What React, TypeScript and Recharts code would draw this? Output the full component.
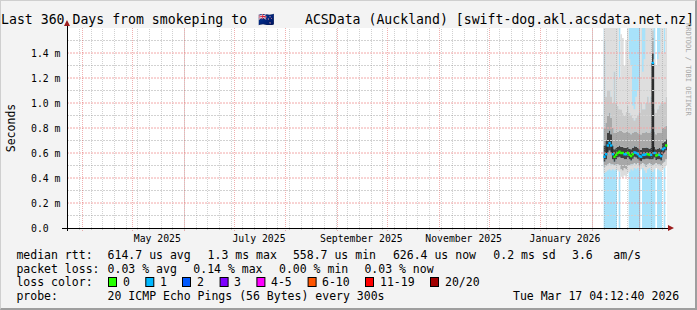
import React from "react";
import {
  ComposedChart,
  Area,
  Line,
  Scatter,
  XAxis,
  YAxis,
  ReferenceLine,
  ReferenceDot,
} from "recharts";

const FONT = "'DejaVu Sans Mono', monospace";

// ---- data (values in milliseconds; x in days since start of the 360-day window)
const binDays = [
  322, 323, 324, 325, 326, 327, 328, 329, 330, 331, 332, 333, 334, 335, 336, 337, 338, 339, 340,
  341, 342, 343, 344, 345, 346, 347, 348, 349, 350, 351, 352, 353, 354, 355, 356, 357, 358, 359,
];
const medianMs = [
  0.57, 0.59, 0.66, 0.68, 0.66, 0.59, 0.57, 0.585, 0.6, 0.61, 0.6, 0.6, 0.59, 0.59, 0.6, 0.585,
  0.575, 0.59, 0.605, 0.6, 0.59, 0.575, 0.57, 0.585, 0.585, 0.59, 0.59, 0.585, 0.585, 1.32, 0.6,
  0.58, 0.585, 0.585, 0.575, 0.63, 0.64, 0.66,
];
const lossPings = [
  1, 1, 1, 1, 1, 1, 0, 0, 0, 0, 0, 0, 1, 1, 0, 0, 0, 0, 1, 1, 1, 1, 1, 1, 1, 1, 0, 0, 1, 1, 1, 0, 0,
  1, 1, 1, 1, 0,
];
const lossBackground = [
  1, 1, 1, 1, 1, 1, 1, 1, 0, 1, 0, 0, 0, 0, 0, 1, 1, 1, 1, 1, 1, 1, 0, 1, 1, 1, 1, 1, 1, 1, 1, 0, 1,
  1, 1, 0, 1, 0,
];
const smokeMin = [
  0.44, 0.45, 0.46, 0.47, 0.46, 0.47, 0.46, 0.47, 0.46, 0.45, 0.41, 0.4, 0.42, 0.41, 0.44, 0.45,
  0.47, 0.46, 0.48, 0.47, 0.48, 0.46, 0.47, 0.48, 0.46, 0.44, 0.47, 0.48, 0.46, 0.45, 0.47, 0.48,
  0.47, 0.46, 0.45, 0.47, 0.48, 0.5,
];
const smokeLow = [
  0.49, 0.5, 0.51, 0.52, 0.51, 0.51, 0.5, 0.51, 0.51, 0.5, 0.47, 0.46, 0.48, 0.47, 0.5, 0.5, 0.51,
  0.51, 0.52, 0.51, 0.52, 0.5, 0.51, 0.52, 0.51, 0.49, 0.51, 0.52, 0.51, 0.5, 0.51, 0.52, 0.51,
  0.51, 0.5, 0.52, 0.53, 0.55,
];
const smokeDarkLo = [
  0.53, 0.55, 0.6, 0.62, 0.6, 0.55, 0.53, 0.55, 0.565, 0.57, 0.56, 0.56, 0.55, 0.55, 0.565, 0.55,
  0.54, 0.555, 0.57, 0.565, 0.555, 0.54, 0.535, 0.55, 0.55, 0.555, 0.555, 0.55, 0.55, 0.55, 0.565,
  0.545, 0.55, 0.55, 0.54, 0.59, 0.6, 0.62,
];
const smokeDarkHi = [
  0.66, 0.7, 0.76, 0.78, 0.75, 0.66, 0.63, 0.64, 0.65, 0.66, 0.65, 0.65, 0.64, 0.645, 0.65, 0.635,
  0.63, 0.64, 0.655, 0.65, 0.64, 0.63, 0.625, 0.64, 0.64, 0.645, 0.64, 0.635, 0.64, 1.4, 0.65,
  0.63, 0.635, 0.64, 0.63, 0.68, 0.69, 0.71,
];
const smokeHigh = [
  0.8, 0.84, 0.9, 0.92, 0.88, 0.8, 0.76, 0.76, 0.77, 0.78, 0.78, 0.77, 0.76, 0.77, 0.77, 0.76, 0.75,
  0.76, 0.77, 0.77, 0.76, 0.75, 0.75, 0.76, 0.76, 0.77, 0.76, 0.76, 0.78, 1.52, 0.77, 0.75, 0.76,
  0.76, 0.76, 0.8, 0.81, 0.82,
];
const smokeUpper = [
  1.5, 1.05, 1.1, 1.1, 1.05, 1.0, 1.25, 1.0, 0.98, 0.95, 0.95, 0.92, 0.9, 0.93, 0.98, 0.92, 0.9,
  0.88, 0.86, 0.88, 0.9, 0.92, 1.0, 0.95, 0.95, 1.0, 1.05, 1.0, 1.05, 1.58, 0.95, 0.92, 0.95, 0.98,
  1.0, 1.02, 1.0, 1.05,
];
const smokeMax = [
  1.6, 1.6, 1.6, 1.6, 1.6, 1.6, 1.6, 1.6, 1.6, 1.2, 1.55, 1.52, 1.3, 1.5, 1.6, 1.35, 1.3, 0.98,
  0.95, 1.05, 1.1, 1.2, 1.6, 1.25, 1.35, 1.6, 1.6, 1.6, 1.6, 1.6, 1.35, 1.3, 1.35, 1.4, 1.6, 1.6,
  1.4, 1.6,
];

// ---- axes / grid
const Y_MAX = 1.6;
const yTicks = [0, 0.2, 0.4, 0.6, 0.8, 1.0, 1.2, 1.4];
const yTickLabels = ["0.0", "0.2 m", "0.4 m", "0.6 m", "0.8 m", "1.0 m", "1.2 m", "1.4 m"];
const yMajor = [0.2, 0.4, 0.6, 0.8, 1.0, 1.2, 1.4];
const yMinor = [0.1, 0.3, 0.5, 0.7, 0.9, 1.1, 1.3, 1.5];
const monthStartDays = [9.2, 39.2, 70.2, 100.2, 131.2, 162.2, 192.2, 223.2, 253.2, 284.2, 315.2, 343.2];
const monthLabelDays = [54.2, 115.2, 176.6, 238.0, 298.8];
const monthLabels = ["May 2025", "July 2025", "September 2025", "November 2025", "January 2026"];
const weekDays = Array.from({ length: 51 }, (_, k) => 7.4 + 7 * k);

// ---- legend
const lossLevels = ["0", "1", "2", "3", "4-5", "6-10", "11-19", "20/20"];
const lossColors = ["#26ff00", "#00b8ff", "#0059ff", "#7e00ff", "#ff00ff", "#ff5500", "#ff0000", "#a10000"];
const medianStats = ["614.7 us avg", "1.3 ms max", "558.7 us min", "626.4 us now", "0.2 ms sd", "3.6", "am/s"];
const lossStats = ["0.03 % avg", "0.14 % max", "0.00 % min", "0.03 % now"];
const probeText = "20 ICMP Echo Pings (56 Bytes) every 300s";
const dateText = "Tue Mar 17 04:12:40 2026";
const titleLeft = "Last 360 Days from smokeping to";
const titleFlag = "\u{1F1F3}\u{1F1FF}";
const titleRight = "ACSData (Auckland) [swift-dog.akl.acsdata.net.nz]";

const rows: any[] = binDays.map((d, i) => ({
  day: d,
  bg: lossBackground[i] ? Y_MAX : 0,
  base: smokeMin[i],
  l1: smokeLow[i] - smokeMin[i],
  l2: smokeDarkLo[i] - smokeLow[i],
  l3: smokeDarkHi[i] - smokeDarkLo[i],
  l4: smokeHigh[i] - smokeDarkHi[i],
  l5: smokeUpper[i] - smokeHigh[i],
  l6: smokeMax[i] - smokeUpper[i],
  median: medianMs[i],
}));
rows.push({ ...rows[rows.length - 1], day: 360 });

const medianPts = binDays.map((d, i) => ({ day: d + 0.5, median: medianMs[i], loss: lossPings[i] }));

const layers = [
  { key: "l1", color: "#dcdcdc" },
  { key: "l2", color: "#a8a8a8" },
  { key: "l3", color: "#404040" },
  { key: "l4", color: "#a8a8a8" },
  { key: "l5", color: "#cacaca" },
  { key: "l6", color: "#dedede" },
];

const MINOR_H = "#d2d2d2";
const MAJOR_H = "#f2a8a8";
const MINOR_V = "rgba(140,140,140,0.4)";
const MAJOR_V = "rgba(222,79,79,0.45)";

export default function App() {
  const legendY = [255, 268.5, 282, 296];
  const medX = [107.6, 207.6, 292.9, 392.9, 493.3, 572, 613.3];
  const lossX = [107.6, 193.3, 279, 364.4];
  const boxX = [108, 145.3, 182, 219.6, 256.4, 307.6, 365, 430];
  const boxLabelX = [123, 160, 197, 234, 271, 322, 380, 445];
  const textStyle: any = { fontFamily: FONT, fontSize: 11.5, fill: "#000" };
  return (
    <div
      style={{
        position: "absolute",
        left: 0,
        top: 0,
        width: 697,
        height: 310,
        background: "#f3f3f3",
        boxSizing: "border-box",
        borderTop: "1px solid #cfcfcf",
        borderLeft: "1px solid #cfcfcf",
        borderRight: "2px solid #9e9e9e",
        borderBottom: "2px solid #9e9e9e",
        overflow: "hidden",
      }}
    >
      <div style={{ position: "absolute", left: 66, top: 27, width: 600, height: 200, background: "#fff" }} />
      <div style={{ position: "absolute", left: -1, top: -1 }}>
        <ComposedChart
          width={697}
          height={310}
          data={rows}
          margin={{ top: 28, right: 30, bottom: 0, left: 0 }}
          style={{ overflow: "visible" }}
        >
          <XAxis
            type="number"
            dataKey="day"
            domain={[0, 360]}
            ticks={monthLabelDays}
            height={82}
            axisLine={false}
            tickLine={false}
            interval={0}
            tick={(p: any) => (
              <text
                x={p.x}
                y={238}
                textAnchor="middle"
                dominantBaseline="central"
                style={{ fontFamily: FONT, fontSize: 9.8, fill: "#000" }}
              >
                {monthLabels[p.index]}
              </text>
            )}
          />
          <YAxis
            type="number"
            domain={[0, Y_MAX]}
            ticks={yTicks}
            width={67}
            axisLine={false}
            tickLine={false}
            interval={0}
            tick={(p: any) => (
              <text
                x={31}
                y={p.y}
                textAnchor="start"
                dominantBaseline="central"
                style={{ fontFamily: FONT, fontSize: 9.8, fill: "#000" }}
              >
                {yTickLabels[p.index]}
              </text>
            )}
          />
          <Area
            type="stepAfter"
            dataKey="bg"
            fill="#a8e2fa"
            fillOpacity={1}
            stroke="none"
            isAnimationActive={false}
          />
          <Area
            type="stepAfter"
            dataKey="base"
            stackId="smoke"
            fill="none"
            fillOpacity={0}
            stroke="none"
            isAnimationActive={false}
          />
          {layers.map((l) => (
            <Area
              key={l.key}
              type="stepAfter"
              dataKey={l.key}
              stackId="smoke"
              fill={l.color}
              fillOpacity={1}
              stroke="none"
              isAnimationActive={false}
            />
          ))}
          <Line
            type="stepAfter"
            dataKey="median"
            stroke="#1a1a1a"
            strokeWidth={1}
            dot={false}
            isAnimationActive={false}
          />
          <Scatter
            data={medianPts}
            dataKey="median"
            isAnimationActive={false}
            shape={(p: any) => (
              <rect
                x={p.cx - 1.2}
                y={p.cy - 1.2}
                width={2.4}
                height={2.4}
                fill={lossColors[p.payload.loss]}
              />
            )}
          />
          {yMinor.map((v) => (
            <ReferenceLine
              key={"hm" + v}
              y={v}
              ifOverflow="visible"
              stroke={MINOR_H}
              strokeDasharray="2 1"
            />
          ))}
          {weekDays.map((d) => (
            <ReferenceLine
              key={"vm" + d}
              segment={[{ x: d, y: -0.016 }, { x: d, y: Y_MAX }]}
              ifOverflow="visible"
              stroke={MINOR_V}
              strokeDasharray="1 1"
              shapeRendering="crispEdges"
            />
          ))}
          {yMajor.map((v) => (
            <ReferenceLine
              key={"hM" + v}
              y={v}
              ifOverflow="visible"
              stroke={MAJOR_H}
              strokeDasharray="2 1"
            />
          ))}
          {monthStartDays.map((d) => (
            <ReferenceLine
              key={"vM" + d}
              segment={[{ x: d, y: -0.024 }, { x: d, y: Y_MAX }]}
              ifOverflow="visible"
              stroke={MAJOR_V}
              strokeDasharray="1 1"
              shapeRendering="crispEdges"
            />
          ))}
          <ReferenceLine
            segment={[{ x: -3, y: 0 }, { x: 363, y: 0 }]}
            ifOverflow="visible"
            stroke="#000"
            strokeWidth={1}
            shapeRendering="crispEdges"
          />
          <ReferenceLine
            segment={[{ x: 0, y: -0.02 }, { x: 0, y: 1.65 }]}
            ifOverflow="visible"
            stroke="#000"
            strokeWidth={1}
            shapeRendering="crispEdges"
          />
          <ReferenceDot
            x={360}
            y={0}
            r={3}
            ifOverflow="visible"
            shape={(p: any) => (
              <path
                d={`M${p.cx + 1} ${p.cy - 3} L${p.cx + 7} ${p.cy} L${p.cx + 1} ${p.cy + 3} Z`}
                fill="#9b1c1c"
              />
            )}
          />
          <ReferenceDot
            x={0}
            y={Y_MAX}
            r={3}
            ifOverflow="visible"
            shape={(p: any) => (
              <path
                d={`M${p.cx - 3} ${p.cy - 2} L${p.cx} ${p.cy - 8} L${p.cx + 3} ${p.cy - 2} Z`}
                fill="#9b1c1c"
              />
            )}
          />
        </ComposedChart>
      </div>
      <svg
        width={697}
        height={310}
        style={{ position: "absolute", left: -1, top: -1, pointerEvents: "none" }}
      >
        <text x={1} y={19} dominantBaseline="central" style={{ fontFamily: FONT, fontSize: 13.2, fill: "#000" }}>
          {titleLeft}
        </text>
        <text x={258} y={19} dominantBaseline="central" style={{ fontFamily: FONT, fontSize: 13.2, fill: "#000" }}>
          {titleFlag}
        </text>
        <text
          x={694}
          y={19}
          textAnchor="end"
          dominantBaseline="central"
          style={{ fontFamily: FONT, fontSize: 13.2, fill: "#000" }}
        >
          {titleRight}
        </text>
        <text
          x={688}
          y={23}
          transform="rotate(90 688 23)"
          dominantBaseline="central"
          style={{ fontFamily: FONT, fontSize: 7, fill: "#a8a8a8" }}
        >
          RRDTOOL / TOBI OETIKER
        </text>
        <text
          x={11}
          y={128}
          transform="rotate(-90 11 128)"
          textAnchor="middle"
          dominantBaseline="central"
          style={{ fontFamily: FONT, fontSize: 11.5, fill: "#000" }}
        >
          Seconds
        </text>
        <text x={16.4} y={legendY[0]} dominantBaseline="central" style={textStyle}>
          median rtt:
        </text>
        {medianStats.map((s, i) => (
          <text key={"ms" + i} x={medX[i]} y={legendY[0]} dominantBaseline="central" style={textStyle}>
            {s}
          </text>
        ))}
        <text x={16.4} y={legendY[1]} dominantBaseline="central" style={textStyle}>
          packet loss:
        </text>
        {lossStats.map((s, i) => (
          <text key={"ls" + i} x={lossX[i]} y={legendY[1]} dominantBaseline="central" style={textStyle}>
            {s}
          </text>
        ))}
        <text x={16.4} y={legendY[2]} dominantBaseline="central" style={textStyle}>
          loss color:
        </text>
        {lossLevels.map((s, i) => (
          <g key={"lc" + i}>
            <rect
              x={boxX[i] + 0.5}
              y={legendY[2] - 4.5}
              width={8}
              height={9}
              fill={lossColors[i]}
              stroke="#000"
              strokeWidth={1}
            />
            <text x={boxLabelX[i]} y={legendY[2]} dominantBaseline="central" style={textStyle}>
              {s}
            </text>
          </g>
        ))}
        <text x={16.4} y={legendY[3]} dominantBaseline="central" style={textStyle}>
          probe:
        </text>
        <text x={107.6} y={legendY[3]} dominantBaseline="central" style={textStyle}>
          {probeText}
        </text>
        <text x={513} y={legendY[3]} dominantBaseline="central" style={textStyle}>
          {dateText}
        </text>
      </svg>
    </div>
  );
}
